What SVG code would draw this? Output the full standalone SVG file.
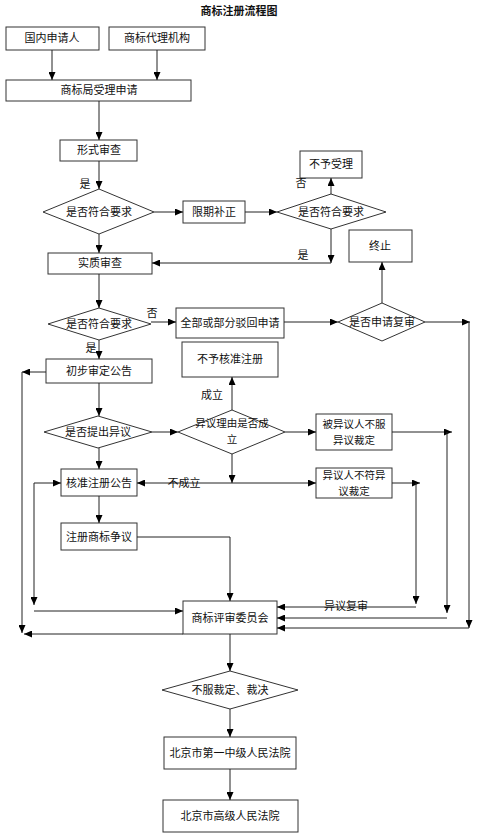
<svg xmlns="http://www.w3.org/2000/svg" width="480" height="839" viewBox="0 0 480 839">
<defs>
<marker id="ah" markerUnits="userSpaceOnUse" markerWidth="9" markerHeight="7" refX="8" refY="3.5" orient="auto">
<path d="M0,0 L8,3.5 L0,7 z" fill="#000"/>
</marker>
<style>
.n{fill:#fff;stroke:#333;stroke-width:1}
.t{font-family:"Noto Sans CJK SC","Noto Sans CJK JP",sans-serif;font-size:11px;fill:#111;text-anchor:middle}
.s{font-size:10.5px}
.b{font-weight:bold}
.c line,.c polyline{stroke:#222;stroke-width:1;fill:none;marker-end:url(#ah)}
.l{font-family:"Noto Sans CJK SC","Noto Sans CJK JP",sans-serif;font-size:11px;fill:#111;text-anchor:middle}
</style>
</defs>
<rect width="480" height="839" fill="#fff"/>
<text class="t b" x="239" y="15">商标注册流程图</text>

<g id="n1"><rect class="n" x="6" y="27" width="93" height="23"/><text class="t" x="52" y="42">国内申请人</text></g>
<g id="n2"><rect class="n" x="109" y="27" width="96" height="23"/><text class="t" x="157" y="42">商标代理机构</text></g>
<g id="n3"><rect class="n" x="6" y="80" width="185" height="21"/><text class="t" x="99" y="94">商标局受理申请</text></g>
<g id="n4"><rect class="n" x="60" y="140" width="77" height="21"/><text class="t" x="99" y="154">形式审查</text></g>
<g id="d1"><polygon class="n" points="43,212 99,189 154,212 99,234"/><text class="t" x="99" y="216">是否符合要求</text></g>
<g id="n5"><rect class="n" x="183" y="201" width="62" height="22"/><text class="t" x="214" y="216">限期补正</text></g>
<g id="d2"><polygon class="n" points="277,212 331,194 386,212 331,229"/><text class="t" x="331" y="216">是否符合要求</text></g>
<g id="n6"><rect class="n" x="300" y="151" width="62" height="27"/><text class="t" x="331" y="168">不予受理</text></g>
<g id="n7"><rect class="n" x="48" y="253" width="104" height="21"/><text class="t" x="100" y="267">实质审查</text></g>
<g id="n8"><rect class="n" x="349" y="230" width="63" height="32"/><text class="t" x="380" y="250">终止</text></g>
<g id="d3"><polygon class="n" points="48,324 99,308 151,324 99,340"/><text class="t" x="99" y="328">是否符合要求</text></g>
<g id="n9"><rect class="n" x="176" y="308" width="108" height="30"/><text class="t" x="230" y="327">全部或部分驳回申请</text></g>
<g id="d4"><polygon class="n" points="338,322 382,303 425,322 382,341"/><text class="t" x="382" y="326">是否申请复审</text></g>
<g id="n10"><rect class="n" x="182" y="342" width="96" height="35"/><text class="t" x="230" y="363">不予核准注册</text></g>
<g id="n11"><rect class="n" x="46" y="359" width="106" height="24"/><text class="t" x="99" y="375">初步审定公告</text></g>
<g id="d5"><polygon class="n" points="44,432 98,416 152,432 98,448"/><text class="t" x="98" y="436">是否提出异议</text></g>
<g id="d6"><polygon class="n" points="178,432 232,410 285,432 232,454"/><text class="t s" x="232" y="427">异议理由是否成</text><text class="t s" x="232" y="443">立</text></g>
<g id="n12"><rect class="n" x="316" y="414" width="76" height="36"/><text class="t s" x="354" y="428">被异议人不服</text><text class="t s" x="354" y="444">异议裁定</text></g>
<g id="n13"><rect class="n" x="61" y="469" width="76" height="27"/><text class="t" x="99" y="487">核准注册公告</text></g>
<g id="n14"><rect class="n" x="316" y="468" width="76" height="30"/><text class="t s" x="354" y="479">异议人不符异</text><text class="t s" x="354" y="495">议裁定</text></g>
<g id="n15"><rect class="n" x="61" y="523" width="76" height="27"/><text class="t" x="99" y="541">注册商标争议</text></g>
<g id="n16"><rect class="n" x="183" y="601" width="94" height="33"/><text class="t" x="230" y="622">商标评审委员会</text></g>
<g id="d7"><polygon class="n" points="162,690 230,671 298,690 230,709"/><text class="t" x="230" y="694">不服裁定、裁决</text></g>
<g id="n17"><rect class="n" x="164" y="737" width="132" height="32"/><text class="t" x="230" y="757">北京市第一中级人民法院</text></g>
<g id="n18"><rect class="n" x="163" y="800" width="135" height="32"/><text class="t" x="230" y="820">北京市高级人民法院</text></g>

<g id="connectors" class="c">
<line x1="52" y1="50" x2="52" y2="80"/>
<line x1="157" y1="50" x2="157" y2="80"/>
<line x1="99" y1="101" x2="99" y2="140"/>
<line x1="99" y1="161" x2="99" y2="189"/>
<line x1="154" y1="212" x2="183" y2="212"/>
<line x1="245" y1="212" x2="277" y2="212"/>
<line x1="331" y1="194" x2="331" y2="178"/>
<line x1="331" y1="229" x2="331" y2="263"/>
<line x1="331" y1="263" x2="152" y2="263"/>
<line x1="99" y1="234" x2="99" y2="253"/>
<line x1="99" y1="274" x2="99" y2="308"/>
<line x1="151" y1="322" x2="176" y2="322"/>
<line x1="284" y1="322" x2="338" y2="322"/>
<line x1="382" y1="303" x2="382" y2="262"/>
<line x1="425" y1="322" x2="470" y2="322"/>
<line x1="469" y1="322" x2="469" y2="628"/>
<line x1="469" y1="628" x2="277" y2="628"/>
<line x1="99" y1="340" x2="99" y2="359"/>
<line x1="46" y1="372" x2="22" y2="372"/>
<line x1="22" y1="372" x2="22" y2="633"/>
<line x1="183" y1="634" x2="24" y2="634"/>
<line x1="99" y1="383" x2="99" y2="416"/>
<line x1="152" y1="432" x2="178" y2="432"/>
<line x1="232" y1="410" x2="232" y2="377"/>
<line x1="285" y1="432" x2="316" y2="432"/>
<line x1="392" y1="432" x2="452" y2="432"/>
<line x1="447" y1="432" x2="447" y2="613"/>
<line x1="447" y1="618" x2="277" y2="618"/>
<line x1="232" y1="454" x2="232" y2="483"/>
<line x1="232" y1="483" x2="316" y2="483"/>
<line x1="232" y1="483" x2="137" y2="483"/>
<line x1="392" y1="483" x2="420" y2="483"/>
<line x1="416" y1="483" x2="416" y2="604"/>
<line x1="416" y1="607" x2="277" y2="607"/>
<line x1="99" y1="448" x2="99" y2="469"/>
<line x1="34" y1="483" x2="61" y2="483"/>
<line x1="34" y1="483" x2="34" y2="605"/>
<line x1="34" y1="611" x2="183" y2="611"/>
<line x1="99" y1="496" x2="99" y2="523"/>
<polyline points="137,537 230,537 230,601"/>
<line x1="230" y1="634" x2="230" y2="671"/>
<line x1="230" y1="709" x2="230" y2="737"/>
<line x1="230" y1="769" x2="230" y2="800"/>
</g>
<g id="labels">
<text class="l" x="85" y="188">是</text>
<text class="l" x="301" y="187">否</text>
<text class="l" x="303" y="259">是</text>
<text class="l" x="152" y="317">否</text>
<text class="l" x="91" y="352">是</text>
<text class="l" x="212" y="399">成立</text>
<text class="l" x="184" y="487">不成立</text>
<text class="l" x="346" y="610">异议复审</text>
</g>
</svg>
